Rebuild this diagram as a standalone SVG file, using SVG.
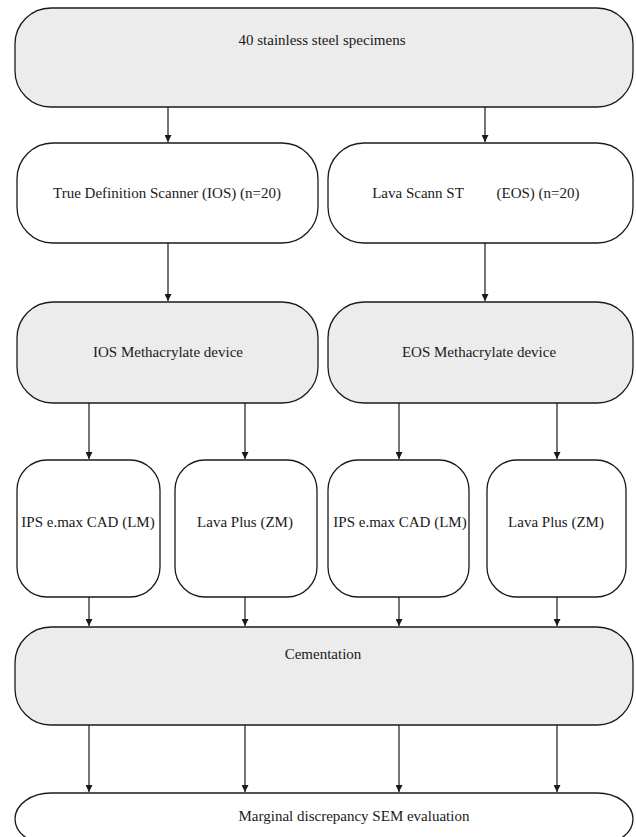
<svg xmlns="http://www.w3.org/2000/svg" width="636" height="837" viewBox="0 0 636 837">
<defs>
<style>
.box{stroke:#1a1a1a;stroke-width:1.3;}
.g{fill:#ececec;}
.w{fill:#ffffff;}
.t{font-size:15px;fill:#1a1a1a;text-anchor:middle;}
.c line{stroke:#1a1a1a;stroke-width:1.2;}
</style>
<marker id="ah" viewBox="0 0 10 10" refX="10" refY="5" markerWidth="7" markerHeight="7" markerUnits="userSpaceOnUse" orient="auto">
<path d="M0,0 L10,5 L0,10 z" fill="#1a1a1a"/>
</marker>
</defs>
<rect width="636" height="837" fill="#ffffff"/>
<g font-family="'Liberation Serif', 'DejaVu Serif', serif">
<g id="n1"><rect class="box g" x="15" y="8" width="618" height="99" rx="36"/><text class="t" x="322" y="45">40 stainless steel specimens</text></g>
<g id="n2"><rect class="box w" x="17" y="143" width="301" height="100" rx="36"/><text class="t" x="167" y="198">True Definition Scanner (IOS) (n=20)</text></g>
<g id="n3"><rect class="box w" x="328" y="143" width="305" height="100" rx="36"/><text class="t" x="418" y="198">Lava Scann ST</text><text class="t" x="538" y="198">(EOS) (n=20)</text></g>
<g id="n4"><rect class="box g" x="17" y="302" width="301" height="101" rx="36"/><text class="t" x="168" y="357">IOS Methacrylate device</text></g>
<g id="n5"><rect class="box g" x="328" y="302" width="305" height="101" rx="36"/><text class="t" x="479" y="357">EOS Methacrylate device</text></g>
<g id="n6"><rect class="box w" x="17" y="460" width="143" height="137" rx="30"/><text class="t" x="88" y="527">IPS e.max CAD (LM)</text></g>
<g id="n7"><rect class="box w" x="175" y="460" width="142" height="137" rx="30"/><text class="t" x="245" y="527">Lava Plus (ZM)</text></g>
<g id="n8"><rect class="box w" x="328" y="460" width="141" height="137" rx="30"/><text class="t" x="400" y="527">IPS e.max CAD (LM)</text></g>
<g id="n9"><rect class="box w" x="487" y="460" width="139" height="137" rx="30"/><text class="t" x="556" y="527">Lava Plus (ZM)</text></g>
<g id="n10"><rect class="box g" x="15" y="627" width="618" height="98" rx="36"/><text class="t" x="323" y="659">Cementation</text></g>
<g id="n11"><rect class="box w" x="15" y="793" width="618" height="52" rx="36"/><text class="t" x="354" y="821">Marginal discrepancy SEM evaluation</text></g>
</g>
<g id="connectors" class="c">
<line x1="168" y1="107" x2="168" y2="142" marker-end="url(#ah)"/>
<line x1="485" y1="107" x2="485" y2="142" marker-end="url(#ah)"/>
<line x1="168" y1="243" x2="168" y2="301" marker-end="url(#ah)"/>
<line x1="485" y1="243" x2="485" y2="301" marker-end="url(#ah)"/>
<line x1="89" y1="403" x2="89" y2="459" marker-end="url(#ah)"/>
<line x1="245" y1="403" x2="245" y2="459" marker-end="url(#ah)"/>
<line x1="399" y1="403" x2="399" y2="459" marker-end="url(#ah)"/>
<line x1="557" y1="403" x2="557" y2="459" marker-end="url(#ah)"/>
<line x1="89" y1="597" x2="89" y2="626" marker-end="url(#ah)"/>
<line x1="245" y1="597" x2="245" y2="626" marker-end="url(#ah)"/>
<line x1="399" y1="597" x2="399" y2="626" marker-end="url(#ah)"/>
<line x1="557" y1="597" x2="557" y2="626" marker-end="url(#ah)"/>
<line x1="89" y1="725" x2="89" y2="792" marker-end="url(#ah)"/>
<line x1="245" y1="725" x2="245" y2="792" marker-end="url(#ah)"/>
<line x1="399" y1="725" x2="399" y2="792" marker-end="url(#ah)"/>
<line x1="557" y1="725" x2="557" y2="792" marker-end="url(#ah)"/>
</g>
</svg>
